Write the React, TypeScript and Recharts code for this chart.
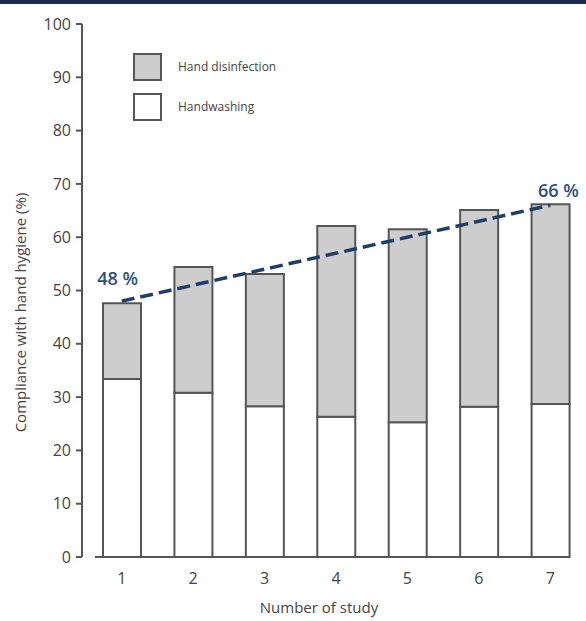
import React from "react";
import {
  BarChart,
  Bar,
  XAxis,
  YAxis,
  ReferenceLine,
  ReferenceDot,
} from "recharts";

const studies = ["1", "2", "3", "4", "5", "6", "7"];
const handwashing = [33.4, 30.8, 28.3, 26.3, 25.3, 28.2, 28.7];
const handDisinfection = [14.2, 23.6, 24.8, 35.8, 36.2, 36.9, 37.5];
const yTicks = [0, 10, 20, 30, 40, 50, 60, 70, 80, 90, 100];
const trendFrom = 48;
const trendTo = 66;
const trendLabels = ["48 %", "66 %"];

const legendItems = [
  { name: "Hand disinfection", fill: "#cdcdcd" },
  { name: "Handwashing", fill: "#ffffff" },
];

const data = studies.map((s, i) => ({
  study: s,
  handwashing: handwashing[i],
  disinfection: handDisinfection[i],
}));

const AXIS = "#555";
const TEXT = "#444";
const NAVY = "#1f3d6b";

const YTitle = ({ viewBox }: any) => {
  const cx = viewBox.x + 20;
  const cy = viewBox.y + viewBox.height / 2 + 22;
  return (
    <text
      x={cx}
      y={cy}
      transform={`rotate(-90 ${cx} ${cy})`}
      textAnchor="middle"
      dominantBaseline="central"
      fill={TEXT}
      fontSize={15}
    >
      Compliance with hand hygiene (%)
    </text>
  );
};

const XTitle = ({ viewBox }: any) => (
  <text
    x={viewBox.x + viewBox.width / 2 - 15}
    y={viewBox.y + 50}
    textAnchor="middle"
    dominantBaseline="central"
    fill={TEXT}
    fontSize={15}
  >
    Number of study
  </text>
);

export default function App() {
  return (
    <div
      style={{
        position: "absolute",
        left: 0,
        top: 0,
        width: 586,
        height: 621,
        background: "#fff",
        fontFamily: "'Open Sans', sans-serif",
      }}
    >
      <div
        style={{
          position: "absolute",
          left: 0,
          top: 0,
          width: 586,
          height: 4,
          background: "#1b2b45",
        }}
      />
      <BarChart
        width={586}
        height={621}
        data={data}
        margin={{ top: 24, right: 0, bottom: 0, left: 0 }}
        barSize={38}
      >
        <XAxis
          dataKey="study"
          height={64}
          padding={{ left: 4, right: 0 }}
          tickLine={false}
          tickMargin={10}
          axisLine={{ stroke: AXIS, strokeWidth: 2, strokeDasharray: "0 13 475 200" }}
          tick={{ fill: TEXT, fontSize: 16 }}
          label={<XTitle />}
        />
        <YAxis
          width={82}
          domain={[0, 100]}
          ticks={yTicks}
          interval={0}
          tickSize={6}
          tickMargin={5}
          axisLine={{ stroke: AXIS, strokeWidth: 2 }}
          tickLine={{ stroke: AXIS, strokeWidth: 2 }}
          tick={{ fill: TEXT, fontSize: 16 }}
          label={<YTitle />}
        />
        <Bar
          dataKey="handwashing"
          stackId="a"
          fill="#ffffff"
          stroke={AXIS}
          strokeWidth={2}
          isAnimationActive={false}
        />
        <Bar
          dataKey="disinfection"
          stackId="a"
          fill="#cdcdcd"
          stroke={AXIS}
          strokeWidth={2}
          isAnimationActive={false}
        />
        <ReferenceLine
          segment={[
            { x: studies[0], y: trendFrom },
            { x: studies[studies.length - 1], y: trendTo },
          ]}
          stroke={NAVY}
          strokeWidth={3.5}
          strokeDasharray="13 6"
          ifOverflow="visible"
        />
        <ReferenceDot
          x={studies[0]}
          y={trendFrom}
          r={0}
          fill="none"
          stroke="none"
          label={{
            value: trendLabels[0],
            position: "top",
            offset: 16,
            dx: -4,
            fill: "#2c4f80",
            fontSize: 18,
            fontWeight: 600,
          }}
        />
        <ReferenceDot
          x={studies[studies.length - 1]}
          y={trendTo}
          r={0}
          fill="none"
          stroke="none"
          label={{
            value: trendLabels[1],
            position: "top",
            offset: 8,
            dx: 8,
            fill: "#2c4f80",
            fontSize: 18,
            fontWeight: 600,
          }}
        />
      </BarChart>
      <div style={{ position: "absolute", left: 133, top: 53 }}>
        {legendItems.map((item) => (
          <div
            key={item.name}
            style={{ display: "flex", alignItems: "center", height: 27, marginBottom: 13 }}
          >
            <div
              style={{
                width: 25,
                height: 24,
                background: item.fill,
                border: `2px solid ${AXIS}`,
              }}
            />
            <span style={{ marginLeft: 16, fontSize: 12, color: TEXT }}>{item.name}</span>
          </div>
        ))}
      </div>
    </div>
  );
}
